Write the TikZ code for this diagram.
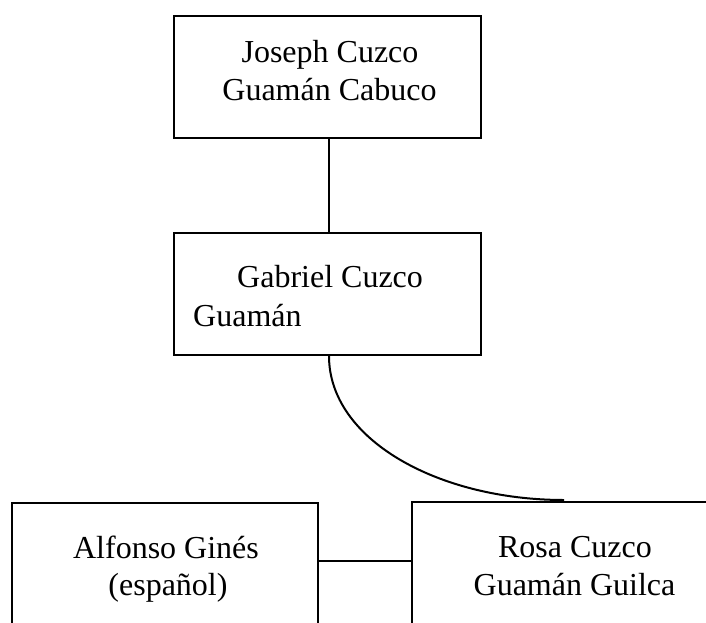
\documentclass[tikz,border=0pt]{standalone}
\usepackage{fontspec}
\setmainfont{Liberation Serif}
\begin{document}
\begin{tikzpicture}[x=1pt,y=-1pt,
  box/.style={draw,line width=2pt,rectangle,inner sep=0pt},
  lbl/.style={inner sep=0pt,font=\fontsize{32}{38}\selectfont},
  conn/.style={line width=2pt}]
\clip (0,0) rectangle (706,622);
\fill[white] (0,0) rectangle (706,622);
\node[box,minimum width=307pt,minimum height=122pt] (top) at (327.5,77) {};
\node[box,minimum width=307pt,minimum height=122pt] (mid) at (327.5,294) {};
\node[box,minimum width=306pt,minimum height=160pt] (left) at (165,583) {};
\node[box,minimum width=350pt,minimum height=160pt] (right) at (587,582) {};
\node[lbl,anchor=base] (t1) at (330,62) {Joseph Cuzco};
\node[lbl,anchor=base] (t2) at (329.5,100) {Guamán Cabuco};
\node[lbl,anchor=base west] (m1) at (237,287) {Gabriel Cuzco};
\node[lbl,anchor=base west] (m2) at (193,326) {Guamán};
\node[lbl,anchor=base] (l1) at (166,558) {Alfonso Ginés};
\node[lbl,anchor=base] (l2) at (168,595) {(español)};
\node[lbl,anchor=base] (r1) at (575,557) {Rosa Cuzco};
\node[lbl,anchor=base] (r2) at (574.5,595) {Guamán Guilca};
\draw[conn] ([xshift=1.5pt]top.south) -- ([xshift=1.5pt]mid.north);
\coordinate (cs) at ([xshift=1.5pt]mid.south);
\coordinate (ce) at ([xshift=153pt,yshift=1pt]right.north west);
\draw[conn] (cs) .. controls ([yshift=-84pt]cs) and ([xshift=-125pt]ce) .. (ce);
\coordinate (lj) at ([yshift=-59pt]left.north east);
\draw[conn] (lj) -- (lj -| right.west);
\end{tikzpicture}
\end{document}
